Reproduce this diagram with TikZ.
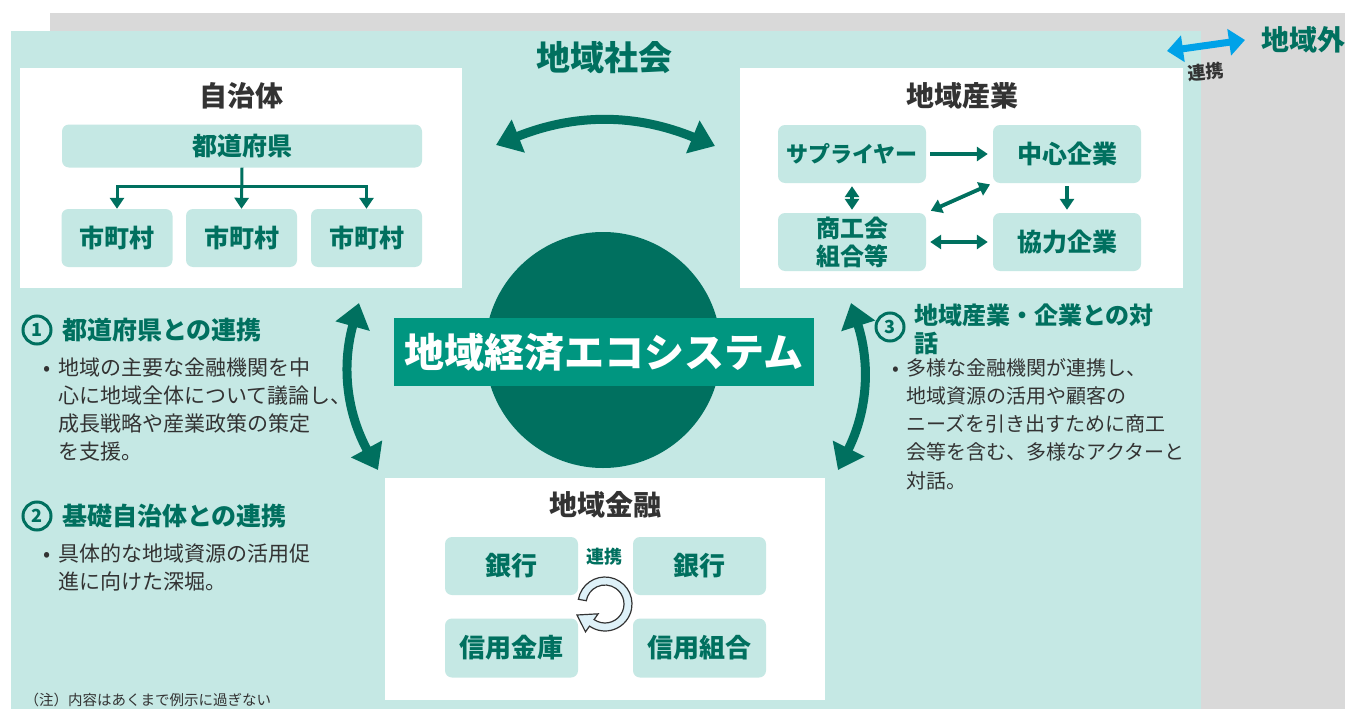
\documentclass[tikz,border=0pt]{standalone}
\usepackage{fontspec}
\setmainfont{Noto Sans CJK JP}
\usepackage{tikz}
\usetikzlibrary{positioning,calc,arrows.meta}

\definecolor{ecoteal}{RGB}{0,112,95}
\definecolor{bannerteal}{RGB}{0,150,128}
\definecolor{paleteal}{RGB}{197,232,228}
\definecolor{bggray}{RGB}{217,217,217}
\definecolor{inkgray}{RGB}{51,51,51}
\definecolor{linkblue}{RGB}{0,162,232}
\definecolor{cycblue}{RGB}{222,241,248}

\newcommand{\fsz}[2]{\fontsize{#1}{#2}\selectfont}

\tikzstyle{areabox} = [fill=white, minimum width=442, minimum height=220, anchor=north west, inner sep=0]
\tikzstyle{unitbox} = [fill=paleteal, rounded corners=7, text=ecoteal, font=\fsz{25}{28}\bfseries, align=center, inner sep=0]
\tikzstyle{areatitle} = [text=inkgray, font=\fsz{28}{28}\bfseries]
\tikzstyle{bigarrow} = [line width=9, draw=ecoteal, {Triangle[width=34pt,length=24pt]}-{Triangle[width=34pt,length=24pt]}]
\tikzstyle{arrow} = [line width=3.8, draw=ecoteal, -{Triangle[width=14pt,length=11pt]}]
\tikzstyle{dblarrow} = [line width=3.8, draw=ecoteal, {Triangle[width=14pt,length=11pt]}-{Triangle[width=14pt,length=11pt]}]
\tikzstyle{numcirc} = [circle, draw=ecoteal, line width=3, minimum size=28, inner sep=0, text=ecoteal, font=\fsz{18}{18}\bfseries]
\tikzstyle{heading} = [anchor=west, text=ecoteal, font=\fsz{25}{28}\bfseries, align=left, inner sep=0]
\tikzstyle{bodytxt} = [anchor=west, text=inkgray, font=\fsz{21}{28}, align=left, inner sep=0]

\begin{document}
\begin{tikzpicture}[x=1pt,y=-1pt]
    \useasboundingbox (0,0) rectangle (1345,709);
    % backdrop
    \fill[white] (0,0) rectangle (1345,709);
    \fill[bggray] (50,13) rectangle (1345,709);
    \fill[paleteal] (11,31) rectangle (1201,709);

    % outside the region
    \node[text=ecoteal, font=\fsz{28}{28}\bfseries, anchor=west] (outside) at (1258,40) {地域外};
    \coordinate (lnkL) at (1167,51);
    \coordinate (lnkR) at (1245,40);
    \draw[line width=7, draw=linkblue, {Triangle[width=26pt,length=16pt]}-{Triangle[width=26pt,length=16pt]}] (lnkL) -- (lnkR);
    \node[text=inkgray, font=\fsz{18}{18}\bfseries, rotate=5] (lnktxt) at (1206,72) {連携};

    \node[text=ecoteal, font=\fsz{34}{34}\bfseries] (society) at (604,58) {地域社会};

    % Local government
    \node[areabox] (jichi) at (20,68) {};
    \node[areatitle] (jichititle) at (241,96) {自治体};
    \node[unitbox, minimum width=360, minimum height=43] (dofu) at (242,146) {都道府県};
    \node[unitbox, minimum width=111, minimum height=58] (shi1) at (117,238) {市町村};
    \node[unitbox, minimum width=111, minimum height=58] (shi2) at (241.5,238) {市町村};
    \node[unitbox, minimum width=111, minimum height=58] (shi3) at (366.5,238) {市町村};
    \coordinate (split) at ($(dofu.south)+(0,19)$);
    \draw[arrow, line width=3] (dofu.south) -- (shi2.north);
    \draw[arrow, line width=3] (split) -| (shi1.north);
    \draw[arrow, line width=3] (split) -| (shi3.north);

    % Local industry
    \node[areabox, minimum width=443] (sangyo) at (740,68) {};
    \node[areatitle] (sangyotitle) at (962,96) {地域産業};
    \node[unitbox, font=\fsz{22}{28}\bfseries, minimum width=148, minimum height=58] (supplier) at (852,154) {サプライヤー};
    \node[unitbox, minimum width=148, minimum height=58] (chushin) at (1067,154) {中心企業};
    \node[unitbox, font=\fsz{24}{28}\bfseries, minimum width=148, minimum height=58] (shoko) at (852,242) {商工会\\組合等};
    \node[unitbox, minimum width=148, minimum height=58] (kyoryoku) at (1067,242) {協力企業};
    \draw[arrow, shorten <=4pt, shorten >=5pt] (supplier) -- (chushin);
    \draw[arrow, shorten <=3pt, shorten >=3pt] (chushin) -- (kyoryoku);
    \draw[dblarrow, shorten <=3pt, shorten >=3pt] (supplier) -- (shoko);
    \draw[dblarrow, shorten <=5pt, shorten >=3pt] (shoko.north east) -- (chushin.south west);
    \draw[dblarrow, shorten <=4pt, shorten >=5pt] (shoko) -- (kyoryoku);

    % Ecosystem core
    \node[circle, fill=ecoteal, minimum size=236, inner sep=0] (eco) at (603,350) {};
    \node[fill=bannerteal, minimum width=420, minimum height=68, text=white, font=\fsz{40}{40}\bfseries] (banner) at (604,352) {地域経済エコシステム};

    % Local finance
    \node[areabox, minimum width=440, minimum height=222] (kinyu) at (385,478) {};
    \node[areatitle] (kinyutitle) at (605,505) {地域金融};
    \node[unitbox, font=\fsz{26}{28}\bfseries, minimum width=133, minimum height=58] (bank1) at (511.5,566) {銀行};
    \node[unitbox, font=\fsz{26}{28}\bfseries, minimum width=133, minimum height=58] (bank2) at (699.5,566) {銀行};
    \node[unitbox, font=\fsz{26}{28}\bfseries, minimum width=133, minimum height=59] (shinkin) at (511.5,648) {信用金庫};
    \node[unitbox, font=\fsz{26}{28}\bfseries, minimum width=133, minimum height=59] (kumiai) at (699.5,648) {信用組合};
    \node[text=ecoteal, font=\fsz{18}{18}\bfseries] (renkei) at (604,557) {連携};
    \coordinate (cyc) at (605,604);
    \filldraw[fill=cycblue, draw=inkgray, line width=1.2]
        ($(cyc)+(-170:27)$) arc[start angle=-170, end angle=125, radius=27]
        -- ($(cyc)+(125:34)$) -- ($(cyc)+(-28,11)$) -- ($(cyc)+(125:12)$)
        -- ($(cyc)+(125:19)$) arc[start angle=125, end angle=-170, radius=19] -- cycle;

    % Big links
    \coordinate (topL) at (496,145);
    \coordinate (topR) at (715,146);
    \draw[bigarrow] (topL) to[bend left=22] (topR);
    \coordinate (leftT) at (359,303);
    \coordinate (leftB) at (378,470);
    \draw[bigarrow] (leftT) to[bend right=22] (leftB);
    \coordinate (rightT) at (851,303);
    \coordinate (rightB) at (838,470);
    \draw[bigarrow] (rightT) to[bend left=22] (rightB);

    % Notes 1 and 2
    \node[numcirc] (num1) at (37,330) {1};
    \node[heading] (head1) at (62,330) {都道府県との連携};
    \node[bodytxt] (body1) at (36,410) {\makebox[22pt][c]{•}地域の主要な金融機関を中\\\hspace*{22pt}心に地域全体について議論し、\\\hspace*{22pt}成長戦略や産業政策の策定\\\hspace*{22pt}を支援。};
    \node[numcirc] (num2) at (37,516) {2};
    \node[heading] (head2) at (62,516) {基礎自治体との連携};
    \node[bodytxt] (body2) at (36,567) {\makebox[22pt][c]{•}具体的な地域資源の活用促\\\hspace*{22pt}進に向けた深堀。};

    % Note 3
    \node[numcirc] (num3) at (890,327) {3};
    \node[heading, font=\fsz{24}{28}\bfseries] (head3) at (914,329) {地域産業・企業との対\\話};
    \node[bodytxt, font=\fsz{20}{28.2}] (body3) at (886,424) {\makebox[20pt][c]{•}多様な金融機関が連携し、\\\hspace*{20pt}地域資源の活用や顧客の\\\hspace*{20pt}ニーズを引き出すために商工\\\hspace*{20pt}会等を含む、多様なアクターと\\\hspace*{20pt}対話。};

    \node[text=inkgray, font=\fsz{14.5}{15}, anchor=west] (note) at (21,700) {（注）内容はあくまで例示に過ぎない};
\end{tikzpicture}
\end{document}
